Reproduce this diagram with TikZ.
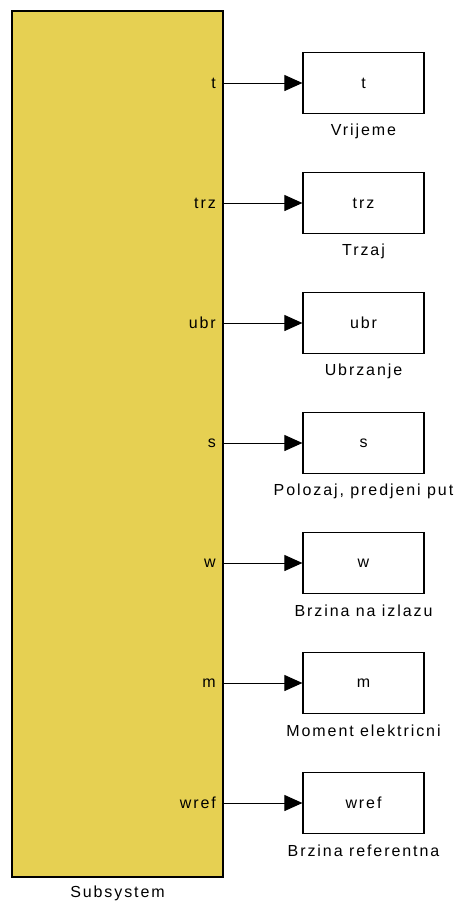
\documentclass[tikz,border=0pt]{standalone}
\usepackage{fontspec}
\setmainfont[LetterSpace=12]{Liberation Sans}
\usetikzlibrary{arrows.meta,calc}
\definecolor{subyellow}{RGB}{230,208,82}
\begin{document}
\begin{tikzpicture}[x=1pt,y=-1pt,
  font=\fontsize{16pt}{18pt}\selectfont,
  subsys/.style={draw=black,line width=1.2pt,fill=subyellow},
  outbox/.style={draw=black,line width=1.2pt,fill=white,minimum width=121pt,minimum height=61pt,inner sep=0pt},
  portlbl/.style={anchor=east,inner sep=0pt},
  caption/.style={inner sep=0pt},
  sig/.style={line width=1pt,-{Triangle[length=18pt,width=16pt]}}]
\useasboundingbox (0,0) rectangle (467,906);
\draw[subsys] (12,11) rectangle (223,877);
\node[caption] (sublbl) at (117.5,893) {Subsystem};
\foreach \i/\p/\cap in {0/t/Vrijeme,1/trz/Trzaj,2/ubr/Ubrzanje,3/s/{Polozaj, predjeni put},4/w/Brzina na izlazu,5/m/Moment elektricni,6/wref/Brzina referentna}{
  \pgfmathsetmacro{\yy}{83+120*\i}
  \coordinate (port\i) at (223,\yy);
  \node[portlbl] (pl\i) at (216,\yy) {\p};
  \node[outbox] (ob\i) at (363.5,\yy) {\p};
  \node[caption] (cap\i) at ($(ob\i.south)+(0,17)$) {\cap};
  \draw[sig] (port\i) -- (ob\i.west);
}
\end{tikzpicture}
\end{document}
